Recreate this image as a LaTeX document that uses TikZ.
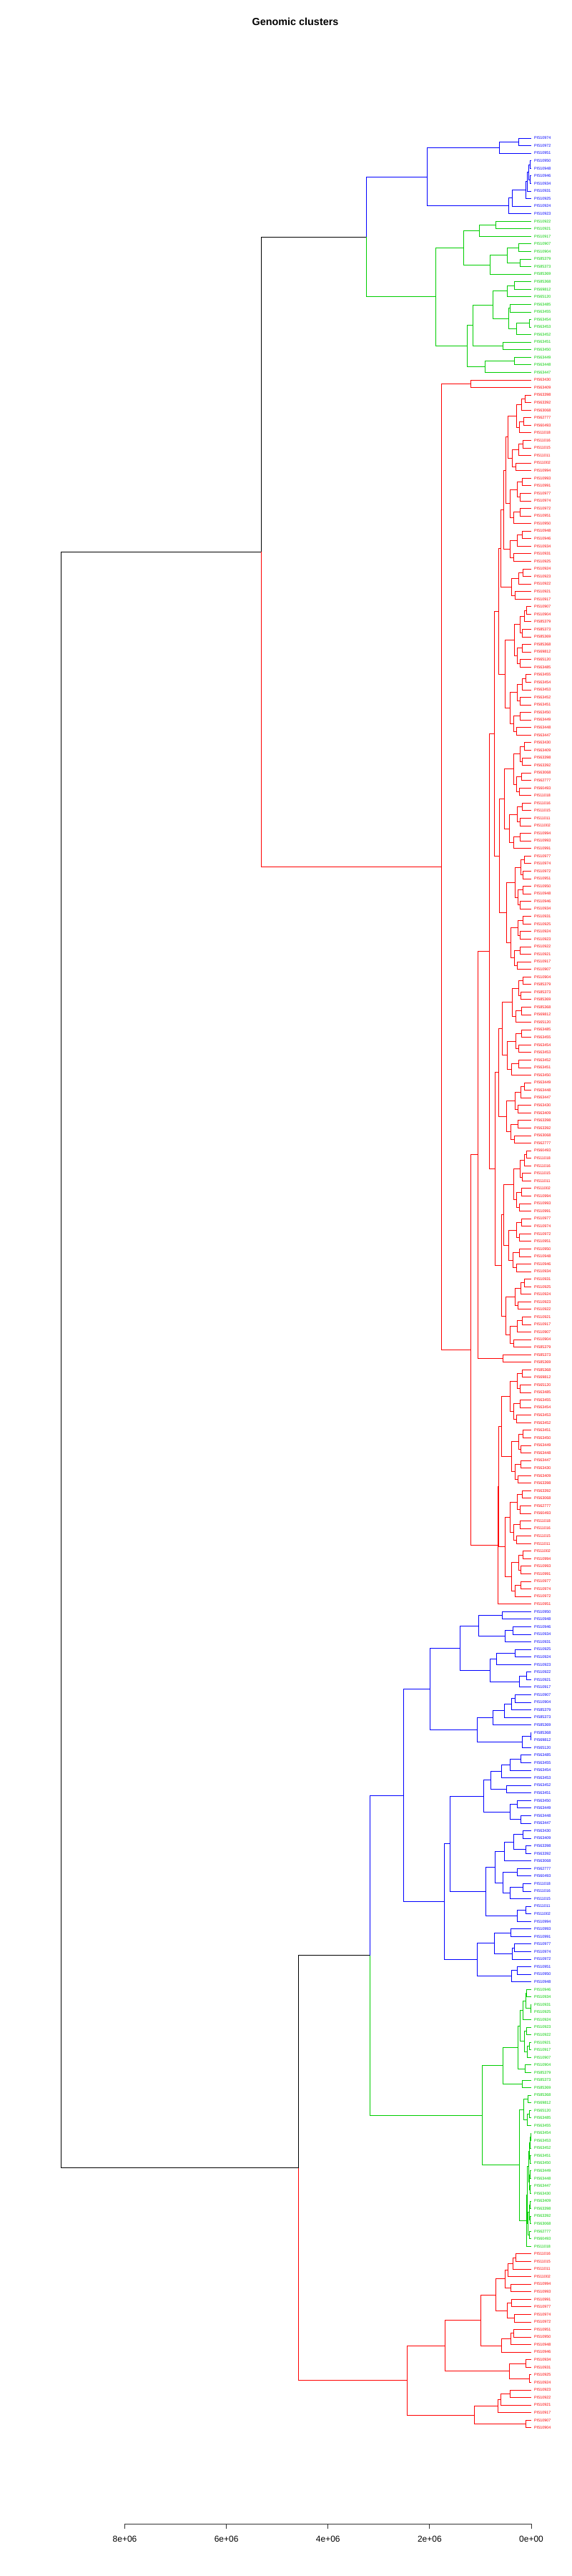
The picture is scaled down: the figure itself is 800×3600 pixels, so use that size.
\documentclass[tikz,border=0pt]{standalone}
\usepackage{fontspec}
\setmainfont{Liberation Sans}
\usetikzlibrary{positioning}
\definecolor{clblue}{HTML}{0000FF}
\definecolor{clgreen}{HTML}{00CD00}
\definecolor{clred}{HTML}{FF0000}
\definecolor{axisgray}{HTML}{333333}
\tikzset{
  branch/.style={line width=0.75pt},
  leaflab/.style={anchor=west, inner sep=0pt, font=\fontsize{5.4}{6}\selectfont},
  titletext/.style={font=\fontsize{14.4}{17}\selectfont\bfseries},
  axisline/.style={draw=axisgray, line width=0.8pt},
  axislab/.style={anchor=base, inner sep=0pt, font=\fontsize{12}{14}\selectfont},
}
\newcount\lfno \newcount\labno \newcount\ndno
\def\dgcol{black}
% sample ids, repeating every 48 leaves
\def\plab#1{PI\ifcase#1 510974\or 510972\or 510951\or 510950\or 510948\or 510946\or 510934\or 510931\or
  510925\or 510924\or 510923\or 510922\or 510921\or 510917\or 510907\or 510904\or 585379\or 585373\or
  585369\or 585368\or 569812\or 565120\or 563485\or 563455\or 563454\or 563453\or 563452\or 563451\or
  563450\or 563449\or 563448\or 563447\or 563430\or 563409\or 563398\or 563392\or 563068\or 562777\or
  560493\or 511018\or 511016\or 511015\or 511011\or 511002\or 510994\or 510993\or 510991\or 510977\fi}
% one leaf: end point and label
\def\lf{%
  \xdef\dgy{\the\dimexpr193pt+10.56pt*\lfno\relax}%
  \coordinate (lf\the\lfno) at (743pt,-\dgy);
  \edef\dglab{\plab{\the\labno}}%
  \node[leaflab,text=\dgcol] (lb\the\lfno) at (747pt,-\dgy) {\dglab};
  \xdef\dgn{lf\the\lfno}\xdef\dgc{\dgcol}%
  \global\advance\lfno by 1\relax
  \global\advance\labno by 1\relax
  \ifnum\labno=48 \global\labno=0\relax\fi}
% one merge: #1 = height (px from the leaves), #2 and #3 = the two branches
\def\nd#1#2#3{\begingroup
  #2\let\dga\dgn\let\dgac\dgc\let\dgay\dgy
  #3\let\dgb\dgn\let\dgbc\dgc\let\dgby\dgy
  \global\advance\ndno by 1\relax
  \edef\dgm{nd\the\ndno}%
  \edef\dgx{\the\dimexpr743pt-#1pt\relax}%
  \xdef\dgy{\the\dimexpr(\dgay+\dgby)/2\relax}%
  \coordinate (\dgm) at (\dgx,-\dgy);
  \draw[branch,draw=\dgac] (\dga) -- (\dga -| \dgm) -- (\dgm);
  \draw[branch,draw=\dgbc] (\dgb) -- (\dgb -| \dgm) -- (\dgm);
  \xdef\dgn{\dgm}\xdef\dgc{\dgcol}%
  \endgroup}
\def\clu#1#2{\begingroup\def\dgcol{#1}#2\endgroup}
% small bushy groups
\def\gen#1#2{\ifnum#1<2 \expandafter\genleaf\else\expandafter\gensplit\fi{#1}{#2}}
\def\genleaf#1#2{\lf}
\def\gensplit#1#2{\edef\dgtmp{\noexpand\nd{#2}%
  {\noexpand\gen{\the\numexpr#1/2\relax}{\the\numexpr#2*65/100\relax}}%
  {\noexpand\gen{\the\numexpr#1-#1/2\relax}{\the\numexpr#2*82/100\relax}}}\dgtmp}

\def\bluetop{\clu{clblue}{\nd{145.7}{\nd{44.3}{\nd{17.7}\lf\lf}\lf}%
  {\nd{31.7}{\nd{26.3}{\nd{8}{\nd{5.3}{\nd{3.5}{\nd{1.5}\lf\lf}{\nd{1.5}\lf\lf}}\lf}\lf}\lf}\lf}}}
\def\greentop{\clu{clgreen}{\nd{133.3}%
  {\nd{94.3}{\nd{72.7}{\nd{49.7}\lf\lf}\lf}{\nd{57.7}{\nd{33.7}{\nd{17.7}\lf\lf}{\nd{15.7}\lf\lf}}\lf}}%
  {\nd{90}{\nd{81.7}{\nd{53.7}{\nd{34}{\nd{23.7}\lf\lf}\lf}{\nd{31.7}{\nd{30}\lf\lf}{\nd{20.7}{\nd{2.3}\lf\lf}\lf}}}{\nd{40}\lf\lf}}%
    {\nd{64.7}{\nd{23.7}\lf\lf}\lf}}}}
\def\redtop{\clu{clred}{\nd{126}{\nd{85}\lf\lf}{\nd{84.5}%
  {\nd{74.7}{\nd{58.6}%
    {\nd{52}{\nd{45.7}{\nd{43}{\nd{39}{\nd{36}{\gen{11}{33}}{\gen{7}{30}}}{\gen{5}{30}}}{\gen{5}{28}}}{\gen{18}{37}}}%
      {\nd{44.3}{\gen{15}{38}}{\gen{16}{35}}}}%
    {\nd{51}{\nd{45.7}{\gen{14}{41}}{\gen{9}{35}}}{\nd{41.3}{\gen{17}{39}}{\gen{10}{36}}}}}%
    {\nd{40}\lf\lf}}%
  {\nd{46.6}{\nd{45.5}{\nd{41.3}{\gen{8}{30}}{\gen{8}{28}}}{\nd{36.3}{\gen{8}{30}}{\gen{7}{28}}}}\lf}}}}
\def\bluelow{\clu{clblue}{\nd{179}%
  {\nd{141.7}%
    {\nd{99.7}{\nd{73.7}{\nd{40.3}\lf\lf}{\nd{36.3}{\nd{25.3}\lf\lf}\lf}}{\nd{57.7}{\nd{48.7}{\nd{22.7}\lf\lf}\lf}{\nd{16.3}{\nd{6.3}\lf\lf}\lf}}}%
    {\nd{75.7}{\nd{53.7}{\nd{38}{\nd{28}{\nd{22.7}\lf\lf}\lf}\lf}\lf}{\nd{12.3}{\nd{1}\lf\lf}\lf}}}%
  {\nd{122}%
    {\nd{113.5}%
      {\nd{66.2}{\nd{57}{\nd{41.2}{\nd{30}{\nd{15}\lf\lf}\lf}\lf}{\nd{35}\lf\lf}}{\nd{30}{\nd{20}\lf\lf}{\nd{15}\lf\lf}}}%
      {\nd{64}{\nd{51}{\nd{38}{\nd{25}{\nd{12}\lf\lf}{\nd{8}\lf\lf}}\lf}{\nd{40}{\nd{20}\lf\lf}{\nd{30}{\nd{12}\lf\lf}\lf}}}{\nd{19.4}{\nd{8}\lf\lf}\lf}}}%
    {\nd{75.6}{\nd{51.3}{\nd{28.7}\lf\lf}{\nd{27}{\nd{23.7}\lf\lf}\lf}}{\nd{28}{\nd{19.7}\lf\lf}\lf}}}}}
\def\greenlow{\clu{clgreen}{\nd{69}%
  {\nd{39.4}{\nd{19}{\nd{15.7}{\nd{11.7}{\nd{7.7}{\nd{7}\lf\lf}{\nd{1}\lf\lf}}\lf}{\nd{10}{\nd{7}\lf\lf}{\nd{6}{\nd{3}\lf\lf}\lf}}}{\nd{8.7}\lf\lf}}{\nd{12.3}\lf\lf}}%
  {\nd{16.7}{\nd{10.7}{\nd{5}\lf\lf}{\nd{6}{\nd{3}\lf\lf}\lf}}{\nd{6.3}{\nd{5.5}{\gen{9}{4}}{\nd{4.5}{\gen{4}{3}}{\nd{3}\lf\lf}}}\lf}}}}
\def\redlow{\clu{clred}{\nd{173.8}%
  {\nd{120.3}%
    {\nd{70.3}{\nd{49.7}{\nd{37}{\nd{32.3}{\nd{25.7}{\nd{22}\lf\lf}\lf}\lf}{\nd{28.7}\lf\lf}}{\nd{34}{\nd{27.7}\lf\lf}{\nd{24}\lf\lf}}}%
      {\nd{41.3}{\nd{28.7}{\nd{24.3}\lf\lf}\lf}\lf}}%
    {\nd{30.7}{\nd{7.3}\lf\lf}{\nd{2.3}\lf\lf}}}%
  {\nd{79.2}{\nd{46.3}{\nd{42.3}{\nd{29.7}\lf\lf}\lf}\lf}{\nd{8}\lf\lf}}}}

\begin{document}
\begin{tikzpicture}[x=1pt,y=-1pt]
  \useasboundingbox (0,0) rectangle (800,3600);
  \node[titletext] (title) at (413,30) {Genomic clusters};
  \nd{658}{\nd{378}{\nd{231}\bluetop\greentop}\redtop}{\nd{326}{\nd{225.6}\bluelow\greenlow}\redlow}
  % height axis
  \draw[axisline] (174.5,3527) -- (743,3527);
  \foreach \v/\tkl in {0/0e+00,2/2e+06,4/4e+06,6/6e+06,8/8e+06} {
    \draw[axisline] ({743-71.06*\v},3527) -- ++(0,7);
    \node[axislab] (tk\v) at ({743-71.06*\v},3552) {\tkl};
  }
\end{tikzpicture}
\end{document}
